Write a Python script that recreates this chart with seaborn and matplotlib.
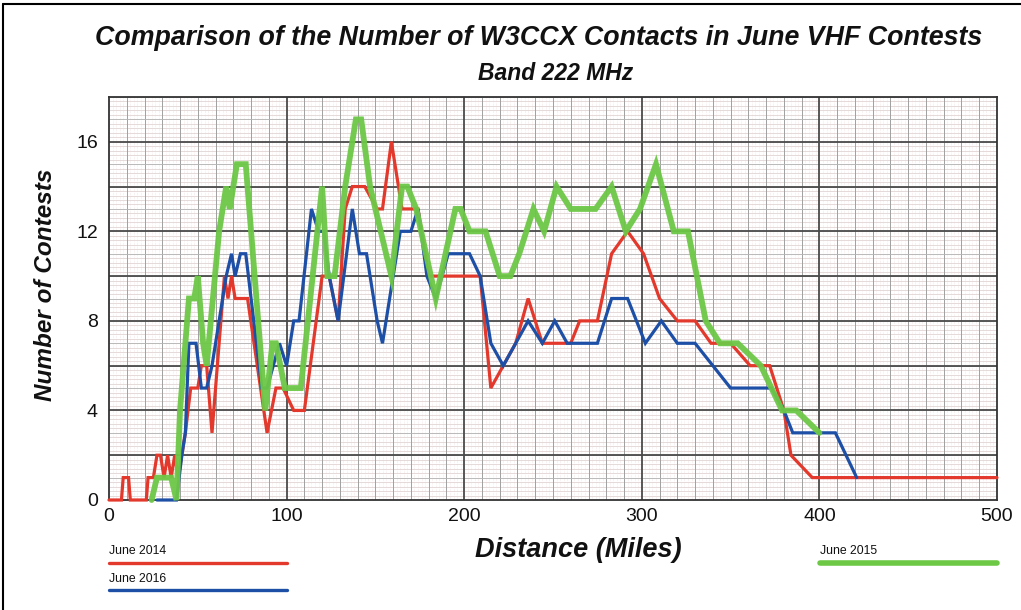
import numpy as np
import pandas as pd
import matplotlib
matplotlib.use("Agg")
import matplotlib.pyplot as plt
from matplotlib.lines import Line2D
import seaborn as sns

# ---------------- data ----------------
red_miles = [0, 7, 8, 11, 12, 21, 22, 25, 27, 29, 31, 33, 35, 37, 39, 41, 43, 46, 50, 52,
             55, 58, 65, 67, 69, 71, 78, 89, 94, 98, 104, 110, 120, 124, 129, 133, 137, 144, 151, 154,
             159, 165, 174, 180, 209, 215, 229, 236, 244, 260, 265, 275, 283, 292, 301, 310, 320, 330, 339, 350,
             361, 372, 380, 384, 396, 500]
red_vals = [0, 0, 1, 1, 0, 0, 1, 1, 2, 2, 1, 2, 1, 2, 1, 2, 3, 5, 5, 6,
            6, 3, 10, 9, 10, 9, 9, 3, 5, 5, 4, 4, 10, 10, 8, 13, 14, 14, 13, 13,
            16, 13, 13, 10, 10, 5, 7, 9, 7, 7, 8, 8, 11, 12, 11, 9, 8, 8, 7, 7,
            6, 6, 4, 2, 1, 1]

blue_miles = [27, 38, 41, 43, 45, 49, 52, 55, 58, 66, 69, 71, 74, 77, 86, 89, 96, 100, 104, 107,
              114, 118, 121, 124, 129, 137, 141, 145, 151, 154, 164, 170, 174, 179, 184, 191, 203, 209, 215, 222,
              229, 236, 244, 251, 258, 275, 283, 292, 302, 311, 320, 330, 340, 350, 373, 380, 385, 409, 421]
blue_vals = [0, 0, 2, 3, 7, 7, 5, 5, 6, 10, 11, 10, 11, 11, 5, 5, 7, 6, 8, 8,
             13, 12, 12, 10, 8, 13, 11, 11, 8, 7, 12, 12, 13, 10, 9, 11, 11, 10, 7, 6,
             7, 8, 7, 8, 7, 7, 9, 9, 7, 8, 7, 7, 6, 5, 5, 4, 3, 3, 1]

green_miles = [24, 27, 35, 38, 40, 44, 45, 48, 50, 53, 55, 62, 64, 66, 68, 70, 72, 77, 88, 92,
               94, 99, 108, 120, 123, 127, 133, 139, 142, 147, 159, 165, 168, 173, 184, 195, 198, 203, 207, 212,
               220, 226, 231, 239, 245, 252, 260, 274, 283, 291, 299, 308, 318, 326, 336, 344, 354, 367, 379, 387,
               400]
green_vals = [0, 1, 1, 0, 4, 8, 9, 9, 10, 7, 6, 12, 13, 14, 13, 14, 15, 15, 4, 7,
              7, 5, 5, 14, 10, 10, 14, 17, 17, 14, 10, 14, 14, 13, 9, 13, 13, 12, 12, 12,
              10, 10, 11, 13, 12, 14, 13, 13, 14, 12, 13, 15, 12, 12, 8, 7, 7, 6, 4, 4,
              3]

series_labels = ["June 2014", "June 2016", "June 2015"]
x_ticks = [0, 100, 200, 300, 400, 500]
y_ticks = [0, 4, 8, 12, 16]

title1 = "Comparison of the Number of W3CCX Contacts in June VHF Contests"
title2 = "Band 222 MHz"
xlabel = "Distance (Miles)"
ylabel = "Number of Contests"

# ---------------- style ----------------
sns.set_style("white")
plt.rcParams['font.family'] = ['Liberation Sans', 'DejaVu Sans']

RED = "#e3382c"
BLUE = "#1d4fa6"
GREEN = "#6dc846"

W, H = 1021, 610
fig = plt.figure(figsize=(W / 100, H / 100), dpi=100)
ax = fig.add_axes([109 / W, 1 - 500 / H, (997 - 109) / W, (500 - 97) / H])

df_red = pd.DataFrame({"miles": red_miles, "count": red_vals})
df_blue = pd.DataFrame({"miles": blue_miles, "count": blue_vals})
df_green = pd.DataFrame({"miles": green_miles, "count": green_vals})

specs = [(df_red, RED, 2.3, 4, 1.0), (df_blue, BLUE, 2.3, 5, 1.0), (df_green, GREEN, 4.2, 6, 0.95)]
for df, col, lw, z, a in specs:
    n0 = len(ax.lines)
    sns.lineplot(data=df, x="miles", y="count", ax=ax, color=col, linewidth=lw,
                 estimator=None, sort=False, zorder=z, alpha=a)
    for ln in ax.lines[n0:]:
        ln.set_clip_on(False)
        ln.set_solid_joinstyle("miter")

ax.set_xlim(0, 500)
ax.set_ylim(0, 18)

# grid
for yv in np.arange(0, 18.01, 0.2):
    ax.axhline(yv, color="#d6c6c6", lw=0.45, zorder=0.5)
for xv in np.arange(0, 500.1, 2):
    ax.axvline(xv, color="#ecd6d6", lw=0.4, ls=(0, (1, 1.5)), zorder=0.5)
ax.set_xticks(x_ticks)
ax.set_xticks(np.arange(0, 501, 10), minor=True)
ax.set_yticks(y_ticks)
ax.set_yticks(np.arange(0, 18.01, 1), minor=True)
ax.grid(which="minor", axis="x", color="#a0a0a0", lw=0.7, zorder=1)
ax.grid(which="minor", axis="y", color="#b5b5b5", lw=0.6, zorder=1)
for yv in np.arange(2, 18, 2):
    ax.axhline(yv, color="#4a4a4a", lw=1.3, zorder=2)
for xv in x_ticks[1:-1]:
    ax.axvline(xv, color="#4a4a4a", lw=1.3, zorder=2)
ax.set_axisbelow(True)
for s in ax.spines.values():
    s.set_color("#333333")
    s.set_linewidth(1.3)

ax.tick_params(axis="both", which="both", length=0, labelsize=14, colors="#111111")
ax.tick_params(axis="x", pad=6)
ax.tick_params(axis="y", pad=8)
ax.set_xlabel("")
ax.set_ylabel("")

# texts
fig.text(539 / W, 1 - 38 / H, title1, ha="center", va="center", fontsize=19.3,
         fontweight="bold", fontstyle="italic", color="#111111")
fig.text(556 / W, 1 - 73 / H, title2, ha="center", va="center", fontsize=16.5,
         fontweight="bold", fontstyle="italic", color="#111111")
fig.text(578 / W, 1 - 550 / H, xlabel, ha="center", va="center", fontsize=19.5,
         fontweight="bold", fontstyle="italic", color="#111111")
fig.text(46 / W, 1 - 285 / H, ylabel, ha="center", va="center", fontsize=17.5,
         fontweight="bold", fontstyle="italic", rotation=90, color="#111111")

# legend (custom, as in reference)
leg = [(series_labels[0], RED, 2.4, 109, 287, 551, 563),
       (series_labels[1], BLUE, 2.4, 109, 287, 579, 590),
       (series_labels[2], GREEN, 4.0, 820, 997, 551, 563)]
for lab, col, lw, x0, x1, ty, ly in leg:
    fig.text(x0 / W, 1 - ty / H, lab, ha="left", va="center", fontsize=8.8, color="#111111")
    fig.add_artist(Line2D([x0 / W, x1 / W], [1 - ly / H, 1 - ly / H], color=col, lw=lw,
                          transform=fig.transFigure))

# figure frame (left and top)
fig.add_artist(Line2D([3 / W, 3 / W], [0, 1 - 4 / H], color="black", lw=1.5, transform=fig.transFigure))
fig.add_artist(Line2D([3 / W, 1], [1 - 4 / H, 1 - 4 / H], color="black", lw=1.5, transform=fig.transFigure))

fig.savefig("out.png", dpi=100)
